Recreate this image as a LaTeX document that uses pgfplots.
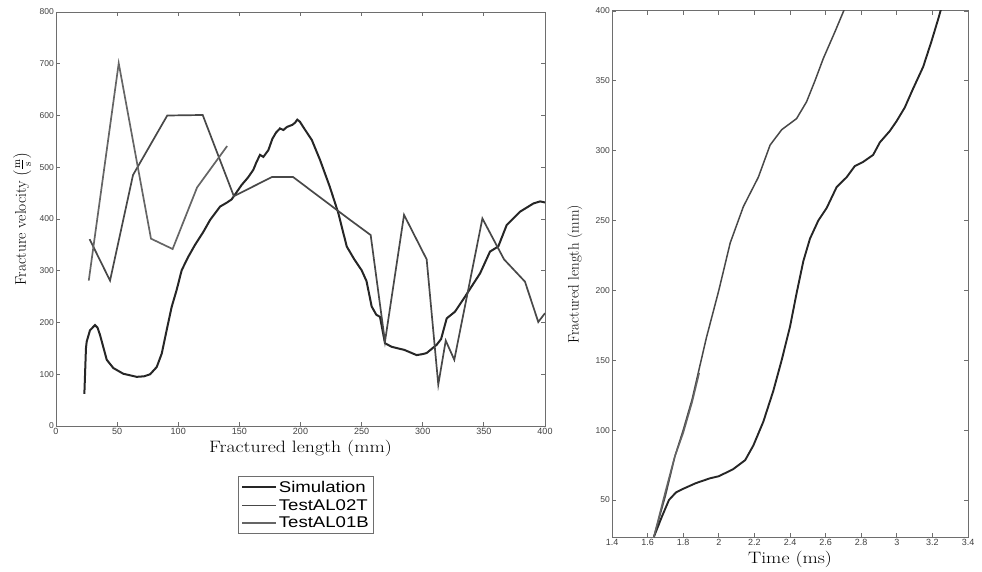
\documentclass[border=0pt]{standalone}
\usepackage{fontspec}
\usepackage{graphicx}
\usepackage{pgfplots}
\pgfplotsset{compat=1.18}
\newfontfamily\arial{Liberation Sans}
\definecolor{simc}{HTML}{262626}
\definecolor{t2c}{HTML}{484848}
\definecolor{t1c}{HTML}{656565}
\definecolor{axc}{HTML}{6E6E6E}
\definecolor{tlc}{HTML}{404040}
\newcommand{\hs}[1]{\scalebox{1.2}[1]{#1}}

\pgfplotstableread{
x y
23.2 62
24.5 150
25.1 163
27.8 185
31.9 195
34 190
36 176
41.5 128
46.9 112
55 101
66 95
72 96
77 100
82.4 114
86.5 140
90.5 185
94.6 230
98.7 263
102.8 301
108.2 327
113.7 350
120.5 375
126 398
134.2 424
140 432
143.7 438
151.9 466
157 480
161.4 495
164 510
166.9 524
169.6 520
173.7 533
177 555
180 567
183.2 575
186 572
189 578
193.4 582
195.5 586
197.4 592
199.5 588
203 575
209.2 553
216 514
224 462
231 411
237.8 347
244 322
250 301
254 280
258.2 231
262 215
265 211
269.1 160
274.6 153
285 147
295 137
300 139
303.2 141
311.4 157
315 168
319.6 208
326.4 221
334.6 250
346.9 295
355 337
361.8 347
368.6 388
379.5 414
390.5 430
396 434
400 432
}\simleft

\pgfplotstableread{
x y
27.5 361
44.2 281
63 485
91 600
120 601
145.5 444
176.5 481
194 481
239 401
257.4 369
269.1 163
284.7 408
303.2 322
312.7 80
318.8 165
325.8 128
348.8 401
366.5 322
383.6 279
394.5 201
400 218
}\twoleft

\pgfplotstableread{
x y
26.8 281
51.3 701
77.7 362
95.4 342
115.4 461
140 541
}\oneleft

\pgfplotstableread{
x y
1.635 23.5
1.68 38
1.72 50
1.76 55.5
1.80 58
1.87 62
1.95 65.5
2.0 67
2.08 72
2.148 78.5
2.194 89
2.25 106
2.306 128
2.353 150
2.4 174
2.437 198
2.475 221
2.512 237
2.559 250
2.606 259
2.662 274
2.718 281
2.764 289
2.811 292
2.867 297
2.905 306
2.96 314
2.998 321
3.045 331
3.09 344
3.148 360
3.194 378
3.232 394
3.25 402
}\simright

\pgfplotstableread{
x y
1.635 23.5
1.70 53
1.755 82
1.80 100
1.85 122
1.93 166
2.0 200
2.064 234
2.138 260
2.222 281
2.288 304
2.353 315
2.437 323
2.493 335
2.54 350
2.587 366
2.652 385
2.708 402
}\tworight

\pgfplotstableread{
x y
1.635 23.5
1.70 56
1.75 80
1.80 98
1.85 120
1.89 141
}\oneright

\begin{document}
\begin{tikzpicture}
\useasboundingbox (0pt,0pt) rectangle (982pt,571pt);
\pgfplotsset{
  mystyle/.style={
    scale only axis,
    tick align=inside,
    major tick length=4pt,
    axis line style={draw=axc, line width=1pt},
    every tick/.style={draw=axc, line width=0.8pt},
    /pgf/number format/assume math mode=true,
    xticklabel style={font=\arial\fontsize{9}{10}\selectfont, text=tlc, inner sep=2pt},
    yticklabel style={font=\arial\fontsize{8.5}{10}\selectfont, text=tlc, inner sep=2pt},
    scaled ticks=false,
    legend image code/.code={\draw[##1] (0pt,0pt) -- (34pt,0pt);},
  }
}
\begin{axis}[mystyle,
  at={(56pt,145pt)}, anchor=south west,
  width=489pt, height=414pt,
  xmin=0, xmax=400, ymin=0, ymax=800,
  xtick={0,50,...,400}, ytick={0,100,...,800},
  xlabel={\hs{Fractured length (mm)}},
  ylabel={Fracture velocity $\left(\frac{\mathrm{m}}{\mathrm{s}}\right)$},
  xlabel style={font=\fontsize{16.5}{19}\selectfont, at={(axis description cs:0.5,-0.0652)}, anchor=base, inner sep=0pt},
  ylabel style={font=\fontsize{15.5}{19}\selectfont, at={(axis description cs:-0.069,0.5)}, anchor=center, inner sep=0pt},
  legend style={at={(0.372,-0.1208)}, anchor=north west, draw=axc, line width=0.9pt,
    font=\arial\fontsize{15.5}{20}\selectfont, inner xsep=3pt, inner ysep=3pt,
    nodes={inner sep=1.5pt}, cells={anchor=west}, row sep=2.5pt},
]
\addplot[simc, line width=2pt] table[x=x,y=y] {\simleft};
\addlegendentry{\hs{Simulation}}
\addplot[t2c, line width=1.7pt] table[x=x,y=y] {\twoleft};
\addlegendentry{\hs{TestAL02T}}
\addplot[t1c, line width=1.7pt] table[x=x,y=y] {\oneleft};
\addlegendentry{\hs{TestAL01B}}
\end{axis}

\begin{axis}[mystyle,
  at={(612pt,34pt)}, anchor=south west,
  width=356pt, height=526pt,
  xmin=1.4, xmax=3.4, ymin=23.5, ymax=400,
  xtick={1.4,1.6,1.8,2,2.2,2.4,2.6,2.8,3,3.2,3.4},
  xticklabels={1.4,1.6,1.8,2,2.2,2.4,2.6,2.8,3,3.2,3.4},
  ytick={50,100,...,400},
  xlabel={\hs{Time (ms)}},
  ylabel={Fractured length (mm)},
  xlabel style={font=\fontsize{16.5}{19}\selectfont, at={(axis description cs:0.5,-0.0513)}, anchor=base, inner sep=0pt},
  ylabel style={font=\fontsize{15}{18}\selectfont, at={(axis description cs:-0.104,0.5)}, anchor=center, inner sep=0pt},
]
\addplot[simc, line width=1.9pt] table[x=x,y=y] {\simright};
\addplot[t2c, line width=1.5pt] table[x=x,y=y] {\tworight};
\addplot[t1c, line width=1.5pt] table[x=x,y=y] {\oneright};
\end{axis}
\end{tikzpicture}
\end{document}
